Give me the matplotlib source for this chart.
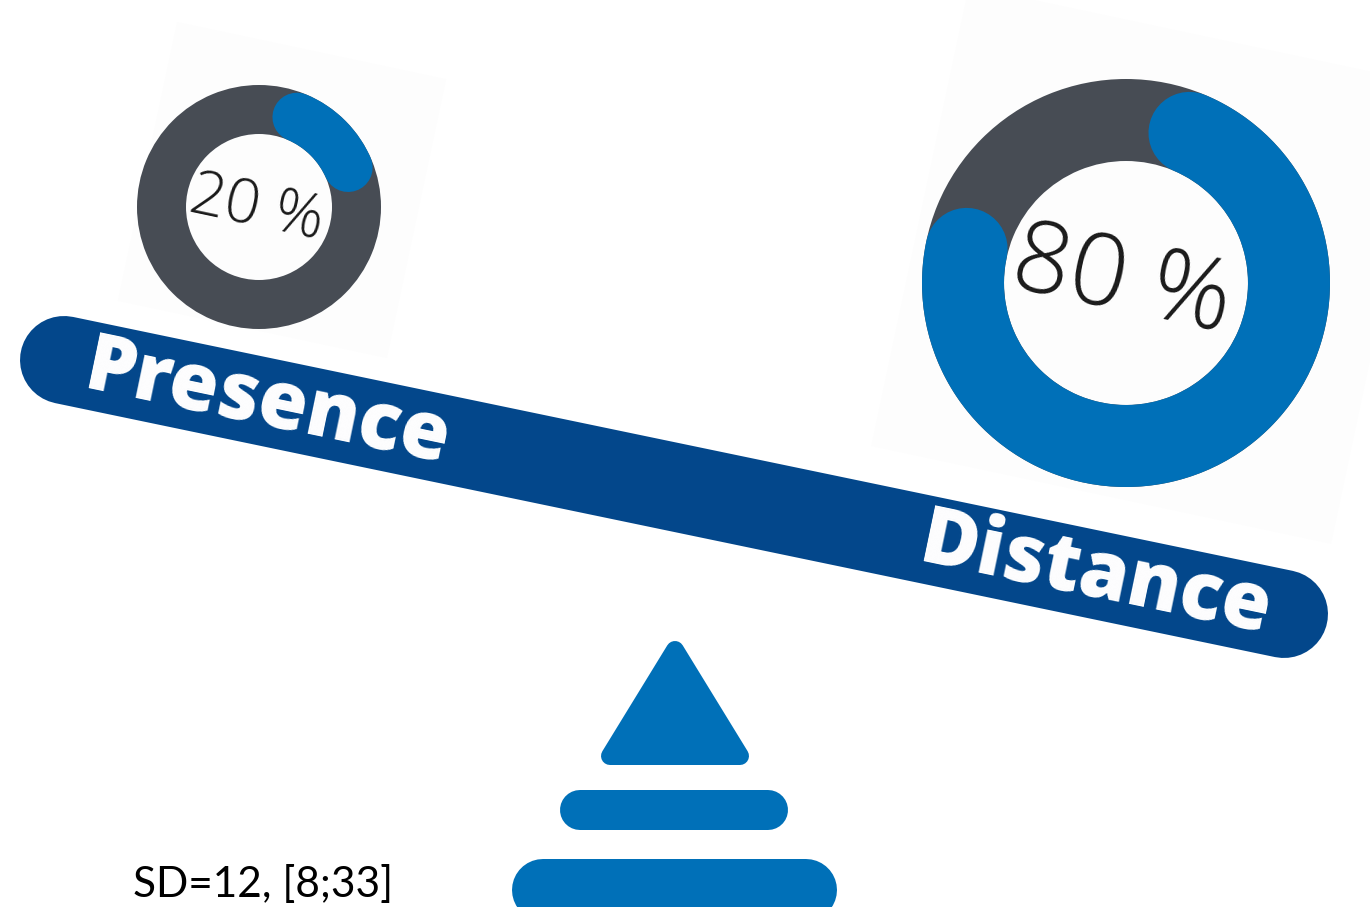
import numpy as np
import matplotlib
matplotlib.use("Agg")
import matplotlib.pyplot as plt
from matplotlib.patches import Wedge, Polygon
from matplotlib import font_manager as fm

# ---- data ----
categories = ["Presence", "Distance"]
shares = [20, 80]            # percent
share_labels = ["20 %", "80 %"]
note = "SD=12, [8;33]"

# ---- fonts ----
def font_file(name, fallback_family, weight):
    for f in fm.fontManager.ttflist:
        if f.fname.split("/")[-1] == name:
            return fm.FontProperties(fname=f.fname)
    return fm.FontProperties(family=fallback_family, weight=weight, style="normal")

F_BOLD = font_file("OpenSans-ExtraBold.ttf", "Open Sans", "heavy")
F_LIGHT = font_file("OpenSans-Light.ttf", "Open Sans", "light")

# ---- style ----
BLUE = "#0070b8"
BEAM = "#03478b"
GRAY = "#474c54"
W, H, DPI = 1370, 907, 100
PT = 72.0 / DPI  # px -> points

fig = plt.figure(figsize=(W / DPI, H / DPI), dpi=DPI)
ax = fig.add_axes([0, 0, 1, 1])
ax.set_xlim(0, W)
ax.set_ylim(H, 0)
ax.set_aspect("equal")
ax.axis("off")

def rot_rect(cx, cy, w, h, ang_deg, **kw):
    a = np.deg2rad(ang_deg)
    pts = np.array([[-w/2, -h/2], [w/2, -h/2], [w/2, h/2], [-w/2, h/2]])
    R = np.array([[np.cos(a), -np.sin(a)], [np.sin(a), np.cos(a)]])
    p = pts @ R.T + [cx, cy]
    ax.add_patch(Polygon(p, closed=True, lw=0, **kw))

# faint image backgrounds behind donuts
rot_rect(282, 190, 275, 285, 12, color="#fdfdfd", zorder=0)
rot_rect(1150, 265, 470, 470, 12, color="#fdfdfd", zorder=0)

# ---- beam ----
x0, y0, x1, y1 = 64, 360, 1284, 614
ax.plot([x0, x1], [y0, y1], color=BEAM, lw=88 * PT, solid_capstyle="round", zorder=2)
beam_ang = np.degrees(np.arctan2(y1 - y0, x1 - x0))

label_pos = [(268, 405), (1096, 577)]
for lab, (tx, ty) in zip(categories, label_pos):
    ax.text(tx, ty, lab, color="white", fontproperties=F_BOLD, fontsize=57,
            rotation=-beam_ang, rotation_mode="anchor",
            ha="center", va="center", zorder=3)

# ---- donuts ----
donuts = [dict(cx=259, cy=207, ro=122, w=49, fs=44, tx=256, ty=210),
          dict(cx=1126, cy=283, ro=204, w=82, fs=72, tx=1122, ty=284)]
start = 8.5  # degrees clockwise from top
for d, val, lab in zip(donuts, shares, share_labels):
    cx, cy, ro, w = d["cx"], d["cy"], d["ro"], d["w"]
    ax.add_patch(Wedge((cx, cy), ro, 0, 360, width=w, color=GRAY, lw=0, zorder=2))
    rc = ro - w / 2
    cap = np.degrees((w / 2) / rc)
    th = np.deg2rad(np.linspace(start + cap, start + val / 100 * 360 - cap, 200))
    ax.plot(cx + rc * np.sin(th), cy - rc * np.cos(th), color=BLUE,
            lw=w * PT, solid_capstyle="round", zorder=3)
    ax.text(d["tx"], d["ty"], lab, fontproperties=F_LIGHT, fontsize=d["fs"],
            color="#1a1a1a", rotation=-12, rotation_mode="anchor",
            ha="center", va="center", zorder=4)

# ---- fulcrum ----
tri = Polygon([[675, 650], [610, 756], [740, 756]], closed=True,
              facecolor=BLUE, edgecolor=BLUE, lw=18 * PT, joinstyle="round", zorder=2)
ax.add_patch(tri)
ax.plot([580, 768], [810, 810], color=BLUE, lw=40 * PT, solid_capstyle="round", zorder=2)
ax.plot([543, 806], [890, 890], color=BLUE, lw=62 * PT, solid_capstyle="round", zorder=2)

# ---- note ----
ax.text(133, 897, note, fontsize=30.5, family="Lato", color="black",
        ha="left", va="baseline", zorder=4)

fig.savefig("out.png", dpi=DPI, facecolor="white")
